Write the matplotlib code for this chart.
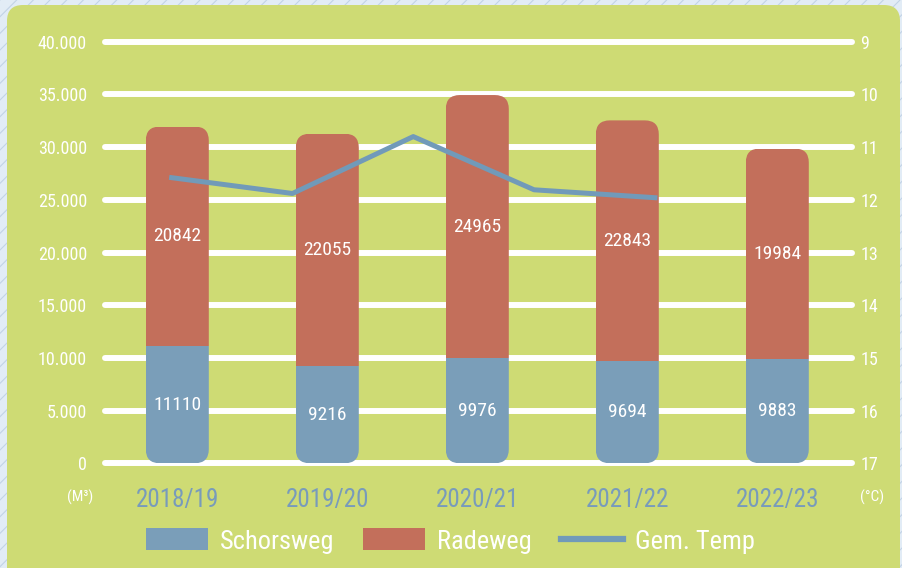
# Schorsweg / Radeweg consumption per season with average temperature
import matplotlib
matplotlib.use("Agg")
import matplotlib.pyplot as plt
import numpy as np
from matplotlib import font_manager
from matplotlib.patches import FancyBboxPatch, Rectangle, Patch
from matplotlib.lines import Line2D
from matplotlib.transforms import IdentityTransform

#### -------- data -------- ####
seasons = ["2018/19", "2019/20", "2020/21", "2021/22", "2022/23"]
schorsweg = [11110, 9216, 9976, 9694, 9883]
radeweg = [20842, 22055, 24965, 22843, 19984]
gem_temp = [11.58, 11.88, 10.80, 11.81, 11.96]

left_ticks = [0, 5000, 10000, 15000, 20000, 25000, 30000, 35000, 40000]
left_labels = ["0", "5.000", "10.000", "15.000", "20.000", "25.000", "30.000", "35.000", "40.000"]
right_ticks = [9, 10, 11, 12, 13, 14, 15, 16, 17]

#### -------- style -------- ####
names = {f.name for f in font_manager.fontManager.ttflist}
font = "Roboto"
for cand in ["Roboto Condensed", "Liberation Sans Narrow", "DejaVu Sans Condensed", "Roboto"]:
    if cand in names:
        font = cand
        break
plt.rcParams["font.family"] = [font, "DejaVu Sans"]
plt.rcParams["hatch.linewidth"] = 0.8

c_blue = "#7a9eb9"
c_red = "#c36f5b"
c_line = "#719ab9"
c_green = "#cedb74"
c_xlab = "#789bbb"

W, H = 903, 568
fig = plt.figure(figsize=(W / 100, H / 100), dpi=100)
fig.patch.set_facecolor("#e2ecf6")
fig.patches.append(Rectangle((0, 0), 1, 1, transform=fig.transFigure, zorder=-10,
                             facecolor="#e2ecf6", edgecolor="#c2d3e6", hatch="//", lw=0))
fig.patches.append(FancyBboxPatch((7, -20), 893, 583, boxstyle="round,pad=0,rounding_size=16",
                                  transform=IdentityTransform(), facecolor=c_green, lw=0,
                                  zorder=-9))

rect = [105 / W, 98.4 / H, 747 / W, 434.2 / H]

#### -------- bars -------- ####
ax = fig.add_axes(rect)
ax.set_facecolor("none")
for s in ax.spines.values():
    s.set_visible(False)
x = np.arange(len(seasons))
ax.set_xlim(-0.482, 4.498)
ax.set_ylim(-600, 40600)
ax.set_yticks(left_ticks, left_labels)
ax.set_xticks(x, seasons)
ax.grid(axis="y", color="white", lw=4.3, solid_capstyle="round")
ax.grid(axis="x", visible=False)
for gl in ax.get_ygridlines():
    gl.set_clip_on(False)
ax.set_axisbelow(True)
ax.tick_params(axis="y", length=0, pad=13, labelcolor="white", labelsize=13)
ax.tick_params(axis="x", length=0, pad=13, labelcolor=c_xlab, labelsize=18)

bw = 0.42
bars1 = ax.bar(x, schorsweg, width=bw, color=c_blue, zorder=2)
bars2 = ax.bar(x, radeweg, bottom=schorsweg, width=bw, color=c_red, zorder=2)
ax.bar_label(bars1, label_type="center", color="white", fontsize=14)
ax.bar_label(bars2, label_type="center", color="white", fontsize=14)

# rounded ends of each stacked column
for i in range(len(x)):
    total = schorsweg[i] + radeweg[i]
    x0, y0 = ax.transData.transform((x[i] - bw / 2, 0))
    x1, y1 = ax.transData.transform((x[i] + bw / 2, total))
    clip = FancyBboxPatch((x0, y0), x1 - x0, y1 - y0, boxstyle="round,pad=0,rounding_size=14",
                          transform=IdentityTransform())
    bars1[i].set_clip_path(clip)
    bars2[i].set_clip_path(clip)

#### -------- temperature line -------- ####
ax2 = fig.add_axes(rect)
ax2.set_facecolor("none")
for s in ax2.spines.values():
    s.set_visible(False)
ax2.set_xlim(-0.552, 5.632)
ax2.set_ylim(17.12, 8.88)
ax2.plot(np.arange(len(gem_temp)), gem_temp, color=c_line, lw=3.6, zorder=3)
ax2.set_xticks([])
ax2.yaxis.tick_right()
ax2.set_yticks(right_ticks)
ax2.tick_params(axis="y", length=0, pad=6, labelcolor="white", labelsize=13)

fig.text(80 / W, 1 - 497 / H, "(M³)", ha="center", va="center", color="white", fontsize=11)
fig.text(872 / W, 1 - 497 / H, "(°C)", ha="center", va="center", color="white", fontsize=11)

handles = [Patch(facecolor=c_blue), Patch(facecolor=c_red), Line2D([], [], color=c_line, lw=4.5)]
leg = fig.legend(handles, ["Schorsweg", "Radeweg", "Gem. Temp"], loc="center",
                 bbox_to_anchor=(450 / W, 1 - 541 / H), ncol=3, frameon=False, fontsize=19,
                 labelcolor="white", handlelength=2.35, handleheight=0.9, handletextpad=0.45,
                 columnspacing=1.1)

fig.savefig("out.png", dpi=100, facecolor=fig.get_facecolor())
